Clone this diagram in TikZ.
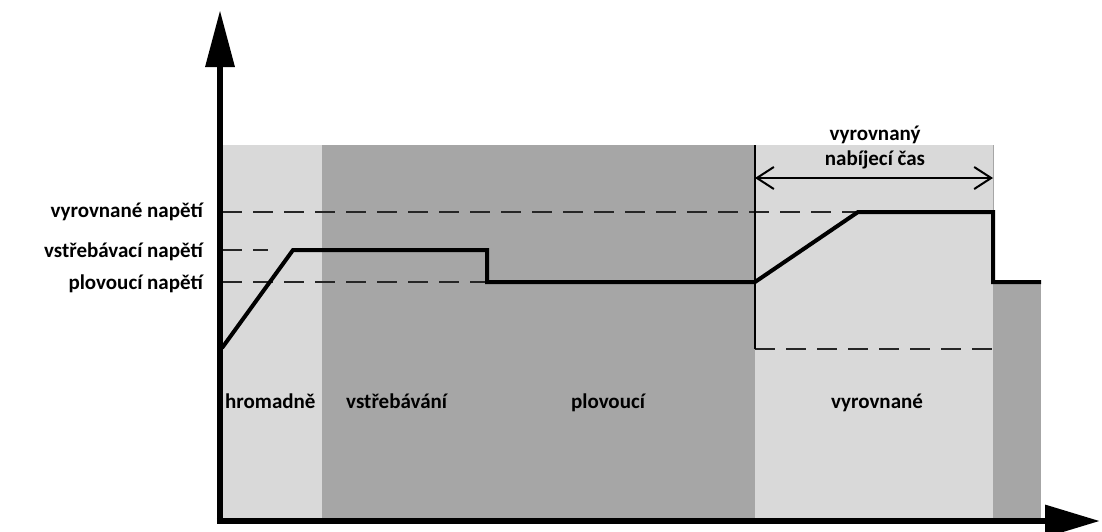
\documentclass[tikz,border=0pt]{standalone}
\usepackage{fontspec}
\setmainfont{Carlito}
\usetikzlibrary{arrows.meta}
\definecolor{lightg}{RGB}{217,217,217}
\definecolor{darkg}{RGB}{166,166,166}
\tikzset{
  lbl/.style={font=\fontsize{21}{25}\selectfont\bfseries, inner sep=0pt},
  dashln/.style={line width=1.8pt, dash pattern=on 20pt off 11pt, black!85},
  profile/.style={line width=4pt, line join=miter},
  axisln/.style={line width=6.5pt},
}
\begin{document}
\begin{tikzpicture}[x=1pt,y=-1pt]
\useasboundingbox (0,0) rectangle (1102,531);
% regions
\fill[lightg] (222,145) rectangle (322,518);
\fill[darkg] (322,145) rectangle (755,518);
\fill[lightg] (755,145) rectangle (993,518);
\fill[darkg] (993,282) rectangle (1041,518);
\draw[line width=0.6pt, black!35] (993,145) -- (993,349);
% dashed levels
\draw[dashln] (222,212) -- (993,212);
\draw[dashln] (222,250) -- (268,250);
\draw[dashln] (222,282) -- (487,282);
\draw[dashln] (755,349) -- (993,349);
% phase boundary
\coordinate (bt) at (755,145);
\coordinate (bb) at (755,349);
\draw[line width=1.8pt] (bt) -- (bb);
% charging time arrow
\coordinate (ta) at (755,178);
\coordinate (tb) at (993,178);
\draw[line width=2pt, {Straight Barb[length=17pt,width=22pt]}-{Straight Barb[length=17pt,width=22pt]}] (ta) -- (tb);
% voltage profile
\draw[profile] (222,348) -- (293,250) -- (487,250) -- (487,282) -- (755,282) -- (858,212) -- (993,212) -- (993,282) -- (1041,282);
% axes
\coordinate (o) at (220,521);
\coordinate (ytip) at (220,10);
\coordinate (xtip) at (1100,521);
\draw[axisln, -{Triangle[length=57pt,width=28pt]}] ([yshift=3pt]o) -- (ytip);
\draw[axisln, -{Triangle[length=55pt,width=31pt]}] ([xshift=-3.2pt]o) -- (xtip);
% labels
\node[lbl, anchor=base east] (l1) at (203,217) {vyrovnané napětí};
\node[lbl, anchor=base east] (l2) at (203,257) {vstřebávací napětí};
\node[lbl, anchor=base east] (l3) at (203,289) {plovoucí napětí};
\node[lbl, anchor=base] (t1) at (875,140) {vyrovnaný};
\node[lbl, anchor=base] (t2) at (875,165) {nabíjecí čas};
\node[lbl, anchor=base west] (p1) at (225,408) {hromadně};
\node[lbl, anchor=base west] (p2) at (346,408) {vstřebávání};
\node[lbl, anchor=base] (p3) at (608,408) {plovoucí};
\node[lbl, anchor=base] (p4) at (877,408) {vyrovnané};
\end{tikzpicture}
\end{document}
